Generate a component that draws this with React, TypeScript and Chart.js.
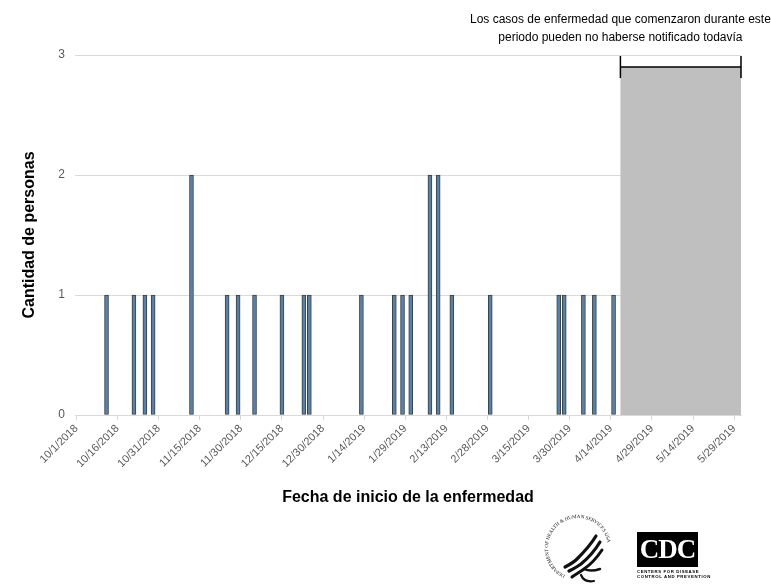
import React, { useEffect, useRef } from "react";
import { Chart, registerables } from "chart.js";

Chart.register(...registerables);

// ---- data ----
const axisStart = [2018, 10, 1]; // first day on the axis (y, m, d)
const axisEnd = [2019, 5, 31]; // last day on the axis
const caseDates = [
  "10/12/2018", "10/22/2018", "10/26/2018", "10/29/2018", "11/12/2018",
  "11/25/2018", "11/29/2018", "12/5/2018", "12/15/2018", "12/23/2018",
  "12/25/2018", "1/13/2019", "1/25/2019", "1/28/2019", "1/31/2019",
  "2/7/2019", "2/10/2019", "2/15/2019", "3/1/2019", "3/26/2019",
  "3/28/2019", "4/4/2019", "4/8/2019", "4/15/2019",
];
const caseCounts = [
  1, 1, 1, 1, 2,
  1, 1, 1, 1, 1,
  1, 1, 1, 1, 1,
  2, 2, 1, 1, 1,
  1, 1, 1, 1,
];
const tickEvery = 15;
const yTicks = [0, 1, 2, 3];
const pendingStart = "4/18/2019";
const pendingHeight = 2.9;
const noteLines = [
  "Los casos de enfermedad que comenzaron durante este",
  "periodo pueden no haberse notificado todavía",
];
const yTitle = "Cantidad de personas";
const xTitle = "Fecha de inicio de la enfermedad";

// categories: every day on the axis
const labels: string[] = [];
{
  const d = new Date(Date.UTC(axisStart[0], axisStart[1] - 1, axisStart[2]));
  const end = new Date(Date.UTC(axisEnd[0], axisEnd[1] - 1, axisEnd[2]));
  while (d.getTime() <= end.getTime()) {
    labels.push(`${d.getUTCMonth() + 1}/${d.getUTCDate()}/${d.getUTCFullYear()}`);
    d.setUTCDate(d.getUTCDate() + 1);
  }
}
const dailyCounts = labels.map((l) => {
  const i = caseDates.indexOf(l);
  return i >= 0 ? caseCounts[i] : null;
});

const FONT = "'Liberation Sans', Arial, sans-serif";

const pendingPlugin = {
  id: "pending",
  afterDraw(chart: any) {
    const { ctx, chartArea, scales } = chart;
    const x = scales.x;
    const y = scales.y;
    const idx = labels.indexOf(pendingStart);
    const slot = x.getPixelForValue(1) - x.getPixelForValue(0);
    const x0 = x.getPixelForValue(idx) - slot / 2;
    const x1 = chartArea.right;
    const yTop = y.getPixelForValue(pendingHeight);
    const yBot = y.getPixelForValue(0);
    ctx.save();
    ctx.fillStyle = "#bfbfbf";
    ctx.fillRect(x0, yTop, x1 - x0, yBot - yTop);
    ctx.strokeStyle = "#000";
    ctx.lineWidth = 1.5;
    ctx.beginPath();
    ctx.moveTo(x0, yTop);
    ctx.lineTo(x1, yTop);
    ctx.moveTo(x0, yTop - 11);
    ctx.lineTo(x0, yTop + 11);
    ctx.moveTo(x1, yTop - 11);
    ctx.lineTo(x1, yTop + 11);
    ctx.stroke();
    ctx.fillStyle = "#000";
    ctx.font = `12px ${FONT}`;
    ctx.textAlign = "center";
    ctx.textBaseline = "alphabetic";
    ctx.fillText(noteLines[0], x0, 23);
    ctx.fillText(noteLines[1], x0, 41);
    ctx.restore();
  },
};

function HHSLogo() {
  return (
    <svg
      width={80}
      height={80}
      viewBox="0 0 80 80"
      style={{ position: "absolute", left: 538, top: 508 }}
    >
      <defs>
        <path id="hhsArc" d="M 27.3 67.2 A 30 30 0 1 1 69 47.8" fill="none" />
      </defs>
      <text fontSize={5} fontFamily="'Liberation Serif', serif" fill="#111">
        <textPath href="#hhsArc">DEPARTMENT OF HEALTH &amp; HUMAN SERVICES USA</textPath>
      </text>
      <g fill="none" stroke="#111" strokeLinecap="round">
        <path d="M 58 28 C 52 38, 45 45, 39 51 C 35 55, 31 57, 27 59" strokeWidth={3.2} />
        <path d="M 62 34 C 56 44, 49 51, 43 56 C 39 59, 35 61, 31 63" strokeWidth={3.2} />
        <path d="M 64 42 C 58 51, 52 57, 46 61 C 42 64, 38 66, 34 69" strokeWidth={3} />
        <path d="M 46 61 C 50 63, 56 63, 62 61" strokeWidth={2.5} />
        <path d="M 43 67 C 45 72, 50 74, 56 73" strokeWidth={2.2} />
      </g>
    </svg>
  );
}

function CDCLogo() {
  return (
    <div style={{ position: "absolute", left: 637, top: 532, width: 62 }}>
      <div
        style={{
          width: 61,
          height: 35,
          background: "#000",
          color: "#fff",
          fontFamily: "'Liberation Serif', 'DejaVu Serif', serif",
          fontWeight: "bold",
          fontSize: 27,
          lineHeight: "35px",
          textAlign: "center",
          letterSpacing: -1,
        }}
      >
        CDC
      </div>
      <div
        style={{
          fontFamily: "'Liberation Sans', Arial, sans-serif",
          fontSize: 4.3,
          fontWeight: "bold",
          lineHeight: "5px",
          marginTop: 2,
          letterSpacing: 0.6,
          color: "#000",
          whiteSpace: "nowrap",
        }}
      >
        CENTERS FOR DISEASE<br />CONTROL AND PREVENTION
      </div>
    </div>
  );
}

export default function App() {
  const canvasRef = useRef<HTMLCanvasElement | null>(null);

  useEffect(() => {
    if (!canvasRef.current) return;
    Chart.defaults.font.family = FONT;
    const chart = new Chart(canvasRef.current, {
      type: "bar",
      data: {
        labels,
        datasets: [
          {
            data: dailyCounts as any,
            backgroundColor: "#4f81bd",
            borderColor: "#45421f",
            borderWidth: 1,
            borderSkipped: false,
            barThickness: 4,
          } as any,
        ],
      },
      plugins: [pendingPlugin],
      options: {
        animation: false,
        responsive: true,
        maintainAspectRatio: false,
        layout: { padding: { left: 16, right: 30, top: 55, bottom: 75 } },
        plugins: {
          legend: { display: false },
          title: { display: false },
          tooltip: { enabled: false },
        },
        scales: {
          x: {
            type: "category",
            offset: true,
            grid: {
              offset: false,
              drawOnChartArea: false,
              drawTicks: true,
              tickLength: 5,
              color: "#d9d9d9",
            },
            border: { display: true, color: "#d9d9d9", width: 1 },
            ticks: {
              autoSkip: false,
              maxRotation: 45,
              minRotation: 45,
              color: "#595959",
              font: { size: 11, family: FONT },
              padding: 2,
            },
            afterBuildTicks: (scale: any) => {
              scale.ticks = scale.ticks.filter((_t: any, i: number) => i % tickEvery === 0);
            },
            afterFit: (scale: any) => {
              scale.height = 95;
            },
            title: {
              display: true,
              text: xTitle,
              color: "#000",
              font: { size: 16, weight: "bold", family: FONT },
              padding: { top: 4, bottom: 3 },
            },
          } as any,
          y: {
            min: yTicks[0],
            max: yTicks[yTicks.length - 1],
            afterBuildTicks: (scale: any) => {
              scale.ticks = yTicks.map((v) => ({ value: v }));
            },
            ticks: {
              color: "#595959",
              font: { size: 12, family: FONT },
              padding: 10,
            },
            grid: { color: "#d9d9d9", drawTicks: false },
            border: { display: false },
            afterFit: (scale: any) => {
              scale.width = 59;
            },
            title: {
              display: true,
              text: yTitle,
              color: "#000",
              font: { size: 16, weight: "bold", family: FONT },
              padding: { top: 4, bottom: 4 },
            },
          } as any,
        },
      },
    });
    return () => chart.destroy();
  }, []);

  return (
    <div
      style={{
        position: "absolute",
        left: 0,
        top: 0,
        width: 771,
        height: 585,
        background: "#fff",
      }}
    >
      <canvas ref={canvasRef} />
      <HHSLogo />
      <CDCLogo />
    </div>
  );
}
